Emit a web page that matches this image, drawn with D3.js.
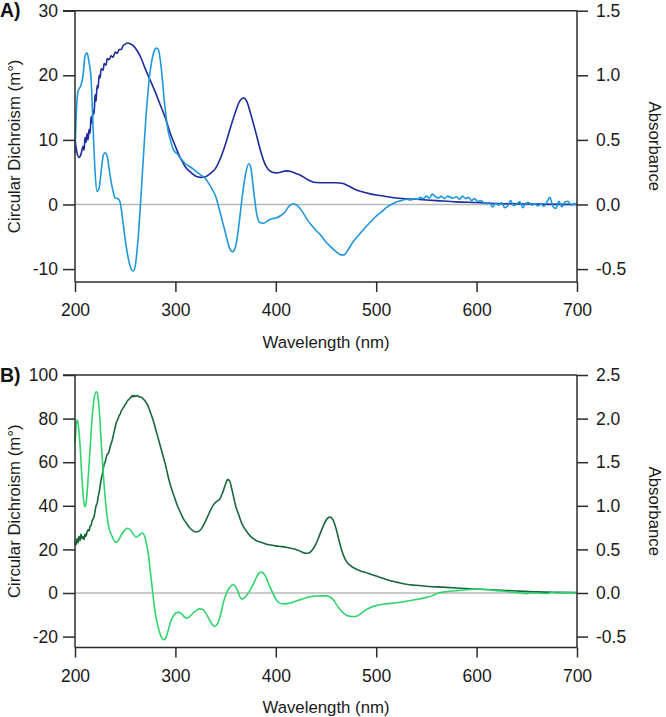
<!DOCTYPE html>
<html><head><meta charset="utf-8">
<script src="https://cdn.jsdelivr.net/npm/d3@7"></script>
<style>
body{margin:0;background:#fff;}
svg{display:block;font-family:"Liberation Sans",Arial,sans-serif;}
</style></head>
<body><svg id="c" width="666" height="717"></svg>
<script>
// ---- Data ----
const xTicks = [200, 300, 400, 500, 600, 700];
const cdTicksA = [-10, 0, 10, 20, 30];
const absTicksA = [-0.5, 0.0, 0.5, 1.0, 1.5];
const cdTicksB = [-20, 0, 20, 40, 60, 80, 100];
const absTicksB = [-0.5, 0.0, 0.5, 1.0, 1.5, 2.0, 2.5];
const panelLabels = ["A)", "B)"];
const xTitle = "Wavelength (nm)";
const yTitleLeft = "Circular Dichroism (m\u00B0)";
const yTitleRight = "Absorbance";

// Panel A: CD (m°), light blue
const cdA = [[200,8],[201,13],[203,17.5],[206,18.5],[208,20],[210,23],[212,23.5],[214,22],[216,19.5],[218,12],[220,5],[222,2],[224,2.5],[226,5],[228,7.5],[230,8],[232,7.5],[234,5.5],[236,3.5],[238,2],[240,1],[243,0.9],[245,0.3],[248,-3],[251,-6.5],[254,-9],[256,-10],[258,-10.3],[260,-9.5],[263,-5],[266,2],[270,12],[274,19.5],[278,23.3],[281,24.2],[283,24],[286,21],[289,16],[292,12],[295,10],[298,8.5],[302,7.8],[306,7],[310,6.3],[315,5.8],[320,5.2],[325,4.6],[330,4],[335,2.8],[340,1.3],[345,-1.5],[350,-4.5],[354,-6.8],[357,-7.3],[360,-6.5],[363,-3.5],[366,0.5],[370,4.8],[373,6.3],[375,5.8],[378,2],[381,-1.5],[384,-2.8],[388,-2.9],[392,-2.5],[396,-2.2],[400,-2.1],[405,-1.7],[409,-1.2],[413,-0.3],[417,0.1],[420,0],[424,-0.6],[428,-1.5],[432,-2.5],[436,-3.3],[440,-4],[445,-4.8],[450,-5.8],[455,-6.6],[460,-7.3],[465,-7.8],[468,-7.8],[472,-7],[476,-6],[480,-5.2],[485,-4.3],[490,-3.4],[495,-2.6],[500,-1.8],[505,-1.2],[510,-0.5],[515,0],[520,0.4],[525,0.6],[530,0.8],[535,0.7],[538,0.9],[541,0.8],[544,1.1],[547,0.9],[550,1.3],[553,1.0],[556,1.6],[559,1.2],[562,1.0],[565,1.3],[568,0.9],[571,1.3],[574,1.1],[577,1.0],[580,1.2],[583,0.8],[586,1.3],[589,0.9],[592,1.1],[595,0.6],[598,0.9],[601,0.5],[604,0.6],[607,0.3],[610,0.1],[613,0.3],[616,-0.4],[619,0.2],[622,-0.1],[625,0.3],[628,-0.5],[631,-0.2],[634,0.6],[637,-0.2],[640,0.1],[643,0.4],[646,-0.5],[649,0.2],[652,0.3],[655,-0.1],[658,0.1],[661,-0.2],[664,0.1],[667,-0.3],[670,0.4],[673,1.1],[676,-0.3],[679,-0.6],[682,0.5],[685,-0.4],[688,0.4],[691,0.5],[694,-0.1],[697,0.1],[700,0]];

// Panel A: Absorbance, dark blue
const absA = [[200,0.50],[202,0.40],[204,0.365],[206,0.39],[208,0.45],[209,0.42],[210,0.52],[211,0.48],[212,0.55],[213,0.50],[214,0.58],[215,0.55],[216,0.68],[217,0.63],[218,0.73],[219,0.70],[220,0.85],[221,0.80],[222,0.92],[223,0.90],[224,1.00],[225,0.98],[226,1.05],[228,1.04],[229,1.09],[231,1.08],[232,1.13],[234,1.12],[236,1.15],[238,1.14],[240,1.18],[242,1.17],[244,1.20],[246,1.20],[248,1.23],[250,1.24],[252,1.25],[255,1.245],[258,1.23],[262,1.19],[266,1.13],[270,1.05],[275,0.96],[280,0.87],[285,0.77],[290,0.67],[295,0.55],[300,0.45],[305,0.36],[310,0.29],[315,0.25],[320,0.22],[325,0.21],[330,0.215],[335,0.24],[340,0.28],[345,0.36],[350,0.47],[355,0.60],[360,0.72],[364,0.80],[368,0.825],[371,0.80],[375,0.70],[380,0.56],[385,0.41],[390,0.30],[395,0.255],[400,0.245],[405,0.25],[410,0.26],[415,0.255],[420,0.24],[425,0.225],[430,0.20],[435,0.18],[440,0.17],[450,0.168],[460,0.168],[466,0.165],[472,0.145],[478,0.12],[485,0.10],[495,0.08],[505,0.068],[520,0.05],[540,0.04],[560,0.03],[580,0.02],[600,0.015],[620,0.008],[640,0.005],[660,0.003],[700,0]];

// Panel B: CD (m°), light green
const cdB = [[200,69],[201,76],[202,79.3],[203,78],[205,68],[207,52],[209,41],[210,39.6],[211,41],[213,52],[215,66],[217,80],[219,89],[221,92.3],[222,92],[224,85],[226,70],[228,56],[230,44],[232,35],[234,29.5],[237,26],[239,24],[241,23.2],[243,24],[246,26.5],[249,28.5],[252,29.7],[255,29],[258,27],[261,25.6],[264,26.5],[267,27.5],[269,26.5],[271,23],[273,18],[275,10],[277,2],[279,-6],[281,-12],[283,-16],[285,-19],[288,-21.4],[290,-21],[292,-18.5],[295,-13.5],[298,-10.5],[301,-9],[303,-8.9],[306,-9.5],[309,-11],[312,-11.5],[315,-10.5],[318,-9],[321,-8],[324,-7.3],[327,-7.5],[330,-9],[333,-11.5],[336,-14],[339,-15.3],[342,-14],[345,-10],[348,-4],[351,0],[354,2.5],[357,3.8],[359,3.5],[362,1],[364,-1.5],[366,-2.7],[368,-2.5],[371,-1],[374,1],[377,3.5],[380,6.5],[383,9],[385,9.6],[387,9.3],[390,7.5],[393,4],[396,1],[399,-2],[402,-4],[405,-4.8],[409,-5],[413,-4.7],[417,-4.2],[421,-3.6],[425,-3],[430,-2.2],[435,-1.6],[440,-1.4],[445,-1.3],[450,-1.3],[454,-1.8],[457,-3],[460,-5],[464,-7.6],[468,-9.5],[472,-10.5],[477,-10.8],[481,-10.5],[486,-9],[490,-7.6],[495,-6.5],[500,-5.8],[505,-5.3],[510,-5],[520,-4.5],[530,-3.8],[540,-3],[550,-2],[556,-1.2],[560,-0.3],[563,0.1],[570,0.6],[580,1.1],[590,1.5],[600,1.8],[610,1.6],[620,1.1],[630,0.7],[640,0.2],[650,-0.3],[653,0.1],[660,0],[670,-0.2],[675,0.3],[680,0],[690,0.1],[700,0]];

// Panel B: Absorbance, dark green
const absB = [[200,0.588],[201,0.55],[202,0.625],[203,0.575],[204,0.65],[205,0.6],[206,0.675],[207,0.625],[208,0.65],[209,0.613],[210,0.675],[211,0.65],[212,0.7],[213,0.725],[214,0.713],[215,0.763],[216,0.775],[217,0.825],[218,0.85],[219,0.875],[220,0.938],[221,1.0],[222,1.025],[223,1.1],[224,1.15],[225,1.225],[226,1.3],[227,1.35],[228,1.413],[229,1.475],[230,1.5],[231,1.55],[232,1.588],[233,1.6],[234,1.625],[235,1.675],[236,1.713],[237,1.75],[238,1.8],[239,1.85],[240,1.9],[241,1.95],[242,1.975],[243,2.0],[244,2.038],[245,2.05],[246,2.088],[247,2.1],[248,2.125],[249,2.138],[250,2.163],[251,2.175],[252,2.2],[253,2.213],[254,2.225],[255,2.238],[256,2.25],[257,2.263],[258,2.25],[259,2.263],[260,2.255],[262,2.263],[264,2.25],[266,2.245],[268,2.225],[270,2.2],[272,2.163],[275,2.075],[278,1.975],[281,1.85],[284,1.725],[287,1.6],[290,1.475],[293,1.325],[296,1.2],[299,1.1],[302,1.0],[305,0.925],[308,0.85],[311,0.8],[314,0.75],[317,0.718],[320,0.7],[323,0.705],[326,0.738],[329,0.8],[332,0.875],[335,0.95],[338,1.013],[341,1.05],[344,1.075],[347,1.15],[350,1.25],[352,1.3],[354,1.288],[356,1.2],[358,1.1],[360,1.0],[363,0.9],[366,0.8],[369,0.738],[372,0.688],[376,0.638],[380,0.605],[385,0.583],[390,0.563],[395,0.55],[400,0.54],[405,0.533],[410,0.525],[415,0.513],[420,0.5],[425,0.475],[430,0.455],[433,0.458],[436,0.488],[440,0.563],[444,0.675],[448,0.788],[451,0.85],[454,0.87],[457,0.838],[460,0.738],[463,0.6],[466,0.475],[469,0.388],[472,0.338],[476,0.3],[480,0.275],[485,0.25],[490,0.233],[495,0.213],[500,0.195],[505,0.175],[510,0.155],[515,0.138],[520,0.125],[530,0.1],[540,0.088],[550,0.078],[560,0.07],[570,0.065],[580,0.058],[590,0.05],[600,0.045],[620,0.035],[640,0.023],[660,0.013],[680,0.008],[700,0.005]];

// ---- Drawing ----
const svg = d3.select("#c");
const L = 75, R = 577;
const FS = 17.5, TFS = 16.8;
const axisColor = "#2b2b2b";
const hy = f => (v => f(v).replace("\u2212", "-"));

const panels = [
  {label: panelLabels[0], top: 10.7, bottom: 282, cdDom: [-12, 30], absDom: [-0.6, 1.5], cdTicks: cdTicksA, absTicks: absTicksA,
   cd: cdA, abs: absA, cdColor: "#1f97de", absColor: "#1d2b9c"},
  {label: panelLabels[1], top: 375, bottom: 647.5, cdDom: [-25, 100], absDom: [-0.625, 2.5], cdTicks: cdTicksB, absTicks: absTicksB,
   cd: cdB, abs: absB, cdColor: "#2fd46c", absColor: "#17683a"}
];

const x = d3.scaleLinear().domain([200, 700]).range([L, R]);

panels.forEach(p => {
  const yL = d3.scaleLinear().domain(p.cdDom).range([p.bottom, p.top]);
  const yR = d3.scaleLinear().domain(p.absDom).range([p.bottom, p.top]);
  const g = svg.append("g");

  // zero line
  g.append("line").attr("x1", L).attr("x2", R).attr("y1", yL(0)).attr("y2", yL(0))
    .attr("stroke", "#b8b8b8").attr("stroke-width", 1.3);

  const lineCD = d3.line().x(d => x(d[0])).y(d => yL(d[1])).curve(d3.curveMonotoneX);
  const lineAbs = d3.line().x(d => x(d[0])).y(d => yR(d[1])).curve(d3.curveMonotoneX);

  g.append("path").datum(p.abs).attr("d", lineAbs).attr("fill", "none")
    .attr("stroke", p.absColor).attr("stroke-width", 1.6).attr("stroke-linejoin", "round");
  g.append("path").datum(p.cd).attr("d", lineCD).attr("fill", "none")
    .attr("stroke", p.cdColor).attr("stroke-width", 1.6).attr("stroke-linejoin", "round");

  // axes
  const ax = g.append("g").attr("transform", `translate(0,${p.bottom})`)
    .call(d3.axisBottom(x).tickValues(xTicks).tickSize(10).tickSizeOuter(0).tickPadding(12));
  const ayL = g.append("g").attr("transform", `translate(${L},0)`)
    .call(d3.axisLeft(yL).tickValues(p.cdTicks).tickSize(12).tickSizeOuter(0).tickPadding(5).tickFormat(hy(d3.format("d"))));
  const ayR = g.append("g").attr("transform", `translate(${R},0)`)
    .call(d3.axisRight(yR).tickValues(p.absTicks).tickSize(11).tickSizeOuter(0).tickPadding(8).tickFormat(hy(d3.format(".1f"))));
  // top frame
  g.append("line").attr("x1", L - 12).attr("x2", R).attr("y1", p.top).attr("y2", p.top)
    .attr("stroke", axisColor).attr("stroke-width", 1.5);

  [ax, ayL, ayR].forEach(a => {
    a.selectAll("path,line").attr("stroke", axisColor).attr("stroke-width", 1.5);
    a.selectAll("text").attr("font-size", FS).attr("fill", "#1a1a1a").attr("font-family", "Liberation Sans, Arial, sans-serif");
  });
  ax.select(".domain").attr("d", `M${L},0H${R}`);
  ayL.select(".domain").attr("d", `M0,${p.bottom}V${p.top}`);
  ayR.select(".domain").attr("d", `M0,${p.bottom}V${p.top}`);
  ax.selectAll("text").attr("dy", "0.71em");

  // titles
  g.append("text").attr("x", (L + R) / 2).attr("y", p.bottom + 65.5).attr("text-anchor", "middle")
    .attr("font-size", TFS).attr("fill", "#1a1a1a").text(xTitle);
  const cy = (p.top + p.bottom) / 2;
  g.append("text").attr("transform", `translate(20,${cy}) rotate(-90)`).attr("text-anchor", "middle")
    .attr("font-size", TFS).attr("fill", "#1a1a1a").text(yTitleLeft);
  g.append("text").attr("transform", `translate(649,${cy}) rotate(90)`).attr("text-anchor", "middle")
    .attr("font-size", TFS).attr("fill", "#1a1a1a").text(yTitleRight);
  g.append("text").attr("x", 0).attr("y", p.top + 6.5).attr("font-size", 19.5).attr("font-weight", "bold")
    .attr("fill", "#111").text(p.label);
});
</script></body></html>
